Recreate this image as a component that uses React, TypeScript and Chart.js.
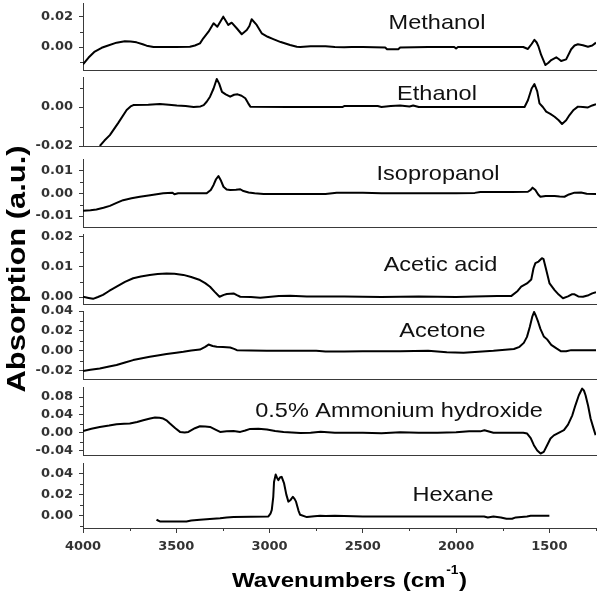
import React, { useEffect, useRef } from 'react';
import { Chart, registerables } from 'chart.js';

Chart.register(...registerables);

// ---------------- DATA ----------------
const panelNames = ['Methanol', 'Ethanol', 'Isopropanol', 'Acetic acid', 'Acetone', '0.5% Ammonium hydroxide', 'Hexane'];

const methanol = [[4000,-0.0115],[3970,-0.007],[3937,-0.003],[3900,-0.0005],[3873,0.0007],[3820,0.0029],[3776,0.0038],[3745,0.0037],[3713,0.0031],[3680,0.0018],[3659,0.0009],[3622,0.0],[3500,0.0],[3427,0.0002],[3400,0.001],[3373,0.0024],[3355,0.0058],[3327,0.0102],[3300,0.0158],[3280,0.0135],[3248,0.0202],[3221,0.0147],[3203,0.0162],[3176,0.0125],[3149,0.0085],[3122,0.0113],[3108,0.014],[3096,0.0185],[3069,0.0147],[3042,0.0091],[3010,0.0068],[2980,0.0053],[2940,0.0033],[2890,0.0013],[2854,0.0002],[2835,0.0],[2780,0.0005],[2700,0.0005],[2650,0.0],[2600,-0.0002],[2560,0.0],[2500,0.0],[2380,-0.0003],[2370,-0.0015],[2310,-0.0015],[2300,-0.0003],[2150,0.0],[2010,0.0],[2000,-0.001],[1990,0.0],[1700,0.0],[1640,0.0],[1615,-0.0013],[1595,0.002],[1580,0.0048],[1568,0.003],[1558,0.0002],[1544,-0.0053],[1521,-0.012],[1505,-0.0105],[1490,-0.0087],[1463,-0.0069],[1450,-0.008],[1437,-0.0093],[1410,-0.0082],[1383,-0.0015],[1365,0.001],[1347,0.0018],[1320,0.0012],[1293,0.0002],[1270,0.001],[1250,0.0029]];

const ethanol = [[3910,-0.02],[3885,-0.0172],[3856,-0.0144],[3810,-0.008],[3766,-0.0015],[3745,0.0003],[3730,0.001],[3650,0.0012],[3588,0.0015],[3540,0.0012],[3497,0.0008],[3450,0.0005],[3407,0.0],[3370,0.0003],[3353,0.001],[3337,0.0027],[3319,0.0053],[3300,0.0095],[3283,0.0144],[3270,0.012],[3255,0.0078],[3235,0.0065],[3211,0.0053],[3190,0.0063],[3171,0.0065],[3150,0.0058],[3130,0.0045],[3115,0.002],[3103,0.0002],[2900,0.0],[2700,0.0],[2610,0.0],[2600,0.0005],[2420,0.0005],[2400,0.0],[2350,0.0005],[2300,0.0008],[2250,0.0003],[2230,0.0008],[2200,0.0],[1700,0.0],[1633,0.0],[1615,0.0035],[1595,0.0095],[1580,0.0118],[1565,0.008],[1553,0.0019],[1535,0.0],[1517,-0.0024],[1495,-0.0035],[1472,-0.005],[1450,-0.0068],[1432,-0.0087],[1410,-0.0068],[1392,-0.0041],[1370,-0.0015],[1347,0.0002],[1320,0.0],[1293,-0.0002],[1270,0.0008],[1250,0.0014]];

const isopropanol = [[4000,-0.0077],[3960,-0.0074],[3928,-0.0071],[3890,-0.0063],[3856,-0.0055],[3820,-0.0042],[3785,-0.003],[3740,-0.0022],[3695,-0.0015],[3640,-0.0008],[3570,0.0],[3520,0.0003],[3510,-0.0004],[3490,0.0],[3400,0.0],[3337,0.0],[3315,0.0015],[3300,0.0037],[3287,0.0062],[3274,0.0076],[3260,0.0055],[3247,0.0029],[3230,0.0017],[3211,0.0015],[3180,0.0016],[3157,0.0018],[3140,0.001],[3112,0.0004],[3080,0.0],[3032,-0.0003],[2900,-0.0003],[2700,-0.0003],[2640,0.0003],[2500,0.0003],[2400,0.0],[2200,0.0],[2000,0.0],[1900,0.0002],[1870,0.0006],[1700,0.0006],[1615,0.0007],[1600,0.0015],[1590,0.0025],[1575,0.0015],[1560,-0.0005],[1548,-0.0015],[1520,-0.0012],[1472,-0.0012],[1445,-0.0014],[1419,-0.0015],[1395,-0.0005],[1365,0.0003],[1330,0.0004],[1300,-0.0002],[1250,-0.0003]];

const aceticAcid = [[4000,0.0001],[3970,-0.0003],[3946,-0.0006],[3920,0.0],[3893,0.0007],[3860,0.002],[3820,0.0034],[3775,0.005],[3731,0.0062],[3690,0.0068],[3642,0.0073],[3600,0.0076],[3552,0.0078],[3510,0.0077],[3462,0.0073],[3420,0.0066],[3373,0.0056],[3345,0.0046],[3319,0.0034],[3295,0.0018],[3268,0.0001],[3245,0.0007],[3229,0.001],[3193,0.0012],[3175,0.0006],[3157,0.0001],[3100,0.0],[3050,-0.0002],[2950,0.0003],[2889,0.0004],[2800,0.0002],[2600,0.0002],[2400,0.0],[2200,0.0002],[2000,0.0],[1900,0.0002],[1780,0.0003],[1705,0.0003],[1670,0.002],[1651,0.0034],[1620,0.0045],[1597,0.0058],[1585,0.0095],[1575,0.0112],[1558,0.0117],[1540,0.0128],[1531,0.0125],[1515,0.0085],[1499,0.0045],[1472,0.0023],[1450,0.0008],[1427,-0.0004],[1400,0.0002],[1380,0.0009],[1365,0.0009],[1345,0.0002],[1320,0.0001],[1290,0.0006],[1270,0.0012],[1250,0.0016]];

const acetone = [[4000,-0.0203],[3960,-0.019],[3910,-0.0177],[3860,-0.0158],[3820,-0.0143],[3775,-0.0118],[3731,-0.0093],[3690,-0.0078],[3642,-0.006],[3600,-0.0047],[3552,-0.0033],[3500,-0.002],[3462,-0.001],[3420,0.0003],[3373,0.0013],[3345,0.004],[3327,0.0063],[3305,0.0048],[3283,0.004],[3250,0.0038],[3211,0.0033],[3190,0.002],[3175,0.0007],[3100,0.0003],[3014,0.0],[2835,0.0],[2750,0.0],[2700,-0.0008],[2600,-0.0008],[2500,-0.0004],[2300,-0.0004],[2150,0.0],[2050,-0.0015],[1960,-0.002],[1900,-0.0012],[1800,0.0],[1690,0.0018],[1660,0.004],[1637,0.008],[1620,0.014],[1605,0.024],[1592,0.034],[1582,0.039],[1572,0.035],[1560,0.029],[1548,0.022],[1530,0.0145],[1512,0.0115],[1490,0.006],[1462,0.0024],[1437,-0.0005],[1410,-0.0005],[1383,0.0007],[1300,0.0007],[1250,0.0007]];

const ammoniumHydroxide = [[4000,0.004],[3955,0.009],[3910,0.013],[3860,0.016],[3820,0.019],[3780,0.02],[3749,0.0206],[3710,0.024],[3677,0.028],[3640,0.032],[3614,0.034],[3590,0.0335],[3570,0.0318],[3550,0.027],[3534,0.0206],[3505,0.01],[3480,0.0018],[3455,0.0005],[3435,0.0018],[3400,0.01],[3373,0.0145],[3345,0.014],[3319,0.013],[3290,0.007],[3265,0.0018],[3230,0.003],[3193,0.004],[3157,0.0018],[3130,0.005],[3104,0.0085],[3060,0.009],[3014,0.0072],[2970,0.004],[2925,0.0018],[2880,0.0005],[2835,-0.0004],[2780,0.0],[2726,0.002],[2650,0.0],[2500,0.0],[2400,-0.001],[2300,0.001],[2200,0.0],[2100,0.0],[2000,0.001],[1930,0.003],[1870,0.003],[1848,0.0056],[1800,0.0],[1700,0.0],[1640,0.0],[1619,-0.002],[1600,-0.012],[1583,-0.028],[1565,-0.04],[1547,-0.0466],[1530,-0.043],[1512,-0.028],[1494,-0.013],[1476,-0.006],[1458,-0.002],[1440,0.002],[1422,0.0056],[1400,0.018],[1377,0.039],[1360,0.062],[1342,0.084],[1324,0.099],[1315,0.095],[1306,0.084],[1292,0.06],[1279,0.032],[1265,0.012],[1252,-0.0056]];

const hexane = [[3606,-0.0037],[3588,-0.0053],[3520,-0.0053],[3445,-0.0053],[3420,-0.0045],[3373,-0.0037],[3320,-0.003],[3265,-0.0022],[3230,-0.0015],[3193,-0.0012],[3100,-0.0008],[3006,-0.0006],[2995,0.002],[2988,0.0056],[2980,0.018],[2976,0.032],[2967,0.039],[2960,0.036],[2953,0.0337],[2943,0.0365],[2935,0.0368],[2922,0.0306],[2910,0.02],[2899,0.0134],[2887,0.015],[2875,0.018],[2866,0.016],[2858,0.0134],[2845,0.005],[2836,0.001],[2800,-0.0012],[2760,-0.0004],[2729,0.0],[2700,-0.0002],[2650,0.0],[2500,-0.0006],[2300,-0.0006],[2100,-0.0006],[1850,-0.0006],[1830,-0.0015],[1800,-0.0006],[1760,-0.0015],[1730,-0.0028],[1700,-0.0028],[1680,-0.0015],[1620,-0.0006],[1600,0.0],[1500,0.0]];

const seriesData = [methanol, ethanol, isopropanol, aceticAcid, acetone, ammoniumHydroxide, hexane];

const yMin = [-0.0153, -0.02, -0.0148, -0.0023, -0.0283, -0.05, -0.0115];
const yMax = [0.0293, 0.0154, 0.0151, 0.0208, 0.040, 0.1025, 0.0499];

const yMajorTicks = [
  [0.0, 0.02],
  [-0.02, 0.0],
  [-0.01, 0.0, 0.01],
  [0.0, 0.01, 0.02],
  [-0.02, 0.0, 0.02, 0.04],
  [-0.04, 0.0, 0.04, 0.08],
  [0.0, 0.02, 0.04],
];
const yMinorTicks = [
  [-0.01, 0.01],
  [-0.01, 0.01],
  [-0.005, 0.005],
  [0.005, 0.015],
  [-0.01, 0.01, 0.03],
  [-0.02, 0.02, 0.06],
  [-0.01, 0.01, 0.03],
];

const xMin = 1250;
const xMax = 4000;
const xMajorTicks = [4000, 3500, 3000, 2500, 2000, 1500];
const xMinorTicks = [3750, 3250, 2750, 2250, 1750, 1250];

const xTitle = 'Wavenumbers (cm';
const xTitleSup = '-1';
const xTitleEnd = ')';
const yTitle = 'Absorption (a.u.)';

// ---------------- LAYOUT / STYLE ----------------
const W = 600;
const H = 595;
const panelTop = [3, 77, 159, 234, 311, 387, 463];
const panelBottom = [70, 146, 227, 304, 379, 455, 528];
const labelPos = [
  { cx: 437, base: 28.5 },
  { cx: 437, base: 100 },
  { cx: 438, base: 180 },
  { cx: 440.5, base: 270.5 },
  { cx: 442.5, base: 337 },
  { cx: 399, base: 416.5 },
  { cx: 453, base: 501 },
];
const AXIS = '#3a3a3a';
const TICK_TEXT = '#333';
const tickFont = { family: '"DejaVu Sans", sans-serif', size: 13, weight: 'bold' as const };
const X_AXIS_H = 30;

function makeConfig(i: number): any {
  const isBottom = i === panelNames.length - 1;
  const xh = isBottom ? X_AXIS_H : 0;
  const decor = {
    id: 'decor' + i,
    afterDraw(chart: any) {
      const ctx = chart.ctx as CanvasRenderingContext2D;
      const area = chart.chartArea;
      const ys = chart.scales.y;
      const xs = chart.scales.x;
      ctx.save();
      ctx.strokeStyle = AXIS;
      ctx.lineWidth = 1;
      for (const v of yMinorTicks[i]) {
        const py = Math.round(ys.getPixelForValue(v)) + 0.5;
        ctx.beginPath();
        ctx.moveTo(area.left - 3, py);
        ctx.lineTo(area.left, py);
        ctx.stroke();
      }
      if (isBottom) {
        for (const v of xMinorTicks) {
          const px = Math.round(xs.getPixelForValue(v)) + 0.5;
          ctx.beginPath();
          ctx.moveTo(px, area.bottom);
          ctx.lineTo(px, area.bottom + 3);
          ctx.stroke();
        }
      }
      // panel label
      ctx.fillStyle = '#111';
      ctx.font = '21px "Liberation Sans", Arial, sans-serif';
      ctx.textAlign = 'center';
      ctx.textBaseline = 'alphabetic';
      ctx.save();
      ctx.translate(labelPos[i].cx, labelPos[i].base);
      ctx.scale(1.12, 1);
      ctx.fillText(panelNames[i], 0, 0);
      ctx.restore();

      if (isBottom) {
        // y title
        ctx.fillStyle = '#000';
        ctx.font = 'bold 25px "Liberation Sans", Arial, sans-serif';
        const wy = ctx.measureText(yTitle).width;
        ctx.save();
        ctx.translate(25, 269);
        ctx.rotate(-Math.PI / 2);
        ctx.scale(247 / wy, 1);
        ctx.textAlign = 'center';
        ctx.fillText(yTitle, 0, 0);
        ctx.restore();
        // x title
        const mainFont = 'bold 21px "Liberation Sans", Arial, sans-serif';
        const supFont = 'bold 12px "Liberation Sans", Arial, sans-serif';
        ctx.font = mainFont;
        const w1 = ctx.measureText(xTitle).width;
        const w3 = ctx.measureText(xTitleEnd).width;
        ctx.font = supFont;
        const w2 = ctx.measureText(xTitleSup).width;
        const total = w1 + w2 + w3 + 1;
        const target = 235;
        ctx.save();
        ctx.translate(349.5 - target / 2, 586.5);
        ctx.scale(target / total, 1);
        ctx.textAlign = 'left';
        ctx.font = mainFont;
        ctx.fillText(xTitle, 0, 0);
        ctx.font = supFont;
        ctx.fillText(xTitleSup, w1 + 0.5, -13);
        ctx.font = mainFont;
        ctx.fillText(xTitleEnd, w1 + w2 + 1, 0);
        ctx.restore();
      }
      ctx.restore();
    },
  };

  return {
    type: 'line',
    data: {
      datasets: [
        {
          data: seriesData[i].map(([x, y]) => ({ x, y })),
          borderColor: '#000',
          borderWidth: 2,
          pointRadius: 0,
          tension: 0,
          fill: false,
          borderJoinStyle: 'round',
        },
      ],
    },
    options: {
      responsive: false,
      animation: false,
      events: [],
      layout: { padding: { top: panelTop[i], bottom: H - panelBottom[i] - xh, left: 0, right: 4 } },
      plugins: { legend: { display: false }, tooltip: { enabled: false }, title: { display: false } },
      scales: {
        x: {
          type: 'linear',
          min: xMin,
          max: xMax,
          reverse: true,
          bounds: 'data',
          afterBuildTicks: (s: any) => {
            s.ticks = isBottom ? xMajorTicks.map((v) => ({ value: v })) : [];
          },
          afterFit: (s: any) => {
            s.height = xh;
            s.paddingLeft = 0;
            s.paddingRight = 0;
          },
          ticks: {
            display: isBottom,
            autoSkip: false,
            maxRotation: 0,
            padding: 6,
            color: TICK_TEXT,
            font: tickFont,
            callback: (v: any) => String(v),
          },
          grid: { display: isBottom, drawOnChartArea: false, drawTicks: true, tickLength: 5, color: AXIS, lineWidth: 1 },
          border: { display: true, color: AXIS, width: 1 },
        },
        y: {
          type: 'linear',
          min: yMin[i],
          max: yMax[i],
          bounds: 'data',
          afterBuildTicks: (s: any) => {
            s.ticks = yMajorTicks[i].map((v) => ({ value: v }));
          },
          afterFit: (s: any) => {
            s.width = 83;
            s.paddingTop = 0;
            s.paddingBottom = 0;
          },
          ticks: {
            padding: 6,
            color: TICK_TEXT,
            font: tickFont,
            autoSkip: false,
            callback: (v: any) => Number(v).toFixed(2),
          },
          grid: { display: true, drawOnChartArea: false, drawTicks: true, tickLength: 4, color: AXIS, lineWidth: 1 },
          border: { display: true, color: AXIS, width: 1 },
        },
      },
    },
    plugins: [decor],
  };
}

export default function App() {
  const refs = useRef<(HTMLCanvasElement | null)[]>([]);
  useEffect(() => {
    const charts = panelNames.map((_, i) => new Chart(refs.current[i] as HTMLCanvasElement, makeConfig(i)));
    return () => {
      charts.forEach((c) => c.destroy());
    };
  }, []);
  return (
    <div style={{ position: 'fixed', left: 0, top: 0, width: W, height: H, background: '#fff' }}>
      {panelNames.map((n, i) => (
        <canvas
          key={n}
          ref={(el) => {
            refs.current[i] = el;
          }}
          width={W}
          height={H}
          style={{ position: 'absolute', left: 0, top: 0, width: W, height: H }}
        />
      ))}
    </div>
  );
}
